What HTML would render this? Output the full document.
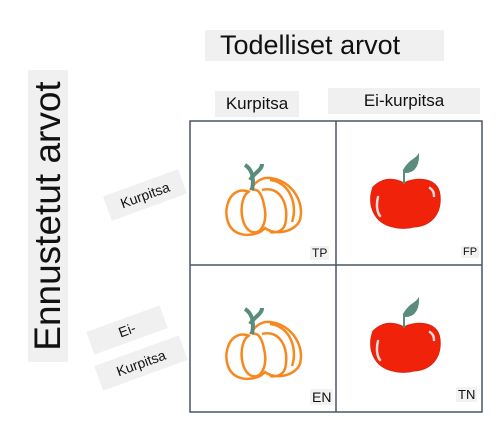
<!DOCTYPE html>
<html><head><style>
body{margin:0;width:500px;height:426px;background:#fff;overflow:hidden;position:relative;font-family:"Liberation Sans","DejaVu Sans",sans-serif;}
.b{position:absolute;background:#f0f0f0;color:#111;white-space:nowrap;}
</style></head><body>
<div class="b" style="left:205px;top:30px;width:239px;height:31px;font-size:27px;line-height:31px;padding-left:15px;box-sizing:border-box;">Todelliset arvot</div>
<div class="b" style="left:28px;top:70px;width:40px;height:292px;"></div>
<div style="position:absolute;left:48px;top:216px;transform:translate(-50%,-50%) rotate(-90deg);font-size:37px;color:#111;white-space:nowrap;">Ennustetut arvot</div>
<div class="b" style="left:215px;top:91px;width:84px;height:26px;font-size:17px;line-height:26px;text-align:center;">Kurpitsa</div>
<div class="b" style="left:328px;top:88px;width:152px;height:26px;font-size:17px;line-height:26px;text-align:center;">Ei-kurpitsa</div>
<div class="b" style="left:105px;top:182px;width:80px;height:26px;font-size:14px;line-height:26px;text-align:center;transform:rotate(-20deg);">Kurpitsa</div>
<div class="b" style="left:88px;top:318px;width:78px;height:24px;font-size:14px;line-height:24px;text-align:center;transform:rotate(-20deg);">Ei-</div>
<div class="b" style="left:96px;top:350px;width:90px;height:26px;font-size:14px;line-height:26px;text-align:center;transform:rotate(-20deg);">Kurpitsa</div>
<svg style="position:absolute;left:0;top:0" width="500" height="426">
<rect x="190" y="121" width="292" height="291" fill="none" stroke="#4a5566" stroke-width="1.5"/>
<line x1="336" y1="121" x2="336" y2="412" stroke="#4a5566" stroke-width="1.5"/>
<line x1="190" y1="265" x2="482" y2="265" stroke="#4a5566" stroke-width="1.5"/>
<g id="pk" fill="none" stroke="#f7881f" stroke-width="2.5">
<path d="M250 192 C225 182,218 225,238 233 C250 238,262 232,265 228 C275 236,295 232,300 220 C305 200,290 180,270 178 C262 177,255 182,250 190"/>
<path d="M248 192 C238 200,240 228,252 232 C262 235,268 220,264 205 C262 194,258 188,252 190"/>
<path d="M262 190 C280 185,290 205,285 225 C282 232,275 233,270 232"/>
<path d="M270 180 C290 182,298 205,292 222"/>
<path d="M252 190 C255 175,250 168,245 165 M250 180 C255 172,262 170,262 164" stroke="#5a8c7e" stroke-width="4"/>
</g>
<use href="#pk" transform="translate(0,144)"/>
<g id="ap">
<path d="M373 187 C385 175,398 180,404 183 C412 178,438 175,440 195 C442 215,430 226,414 227 C406 229,400 229,393 227 C375 224,366 205,373 187Z" fill="#f0230a" stroke="#d21" stroke-width="1"/>
<path d="M404 184 L404 170 C410 160,415 160,418 156 C418 168,412 172,405 172" fill="#5a8c7e" stroke="#5a8c7e" stroke-width="2"/>
<path d="M378 197 C376 205,377 212,380 216 M430 188 C433 190,434 193,434 196" stroke="#ddd" stroke-width="2.5" fill="none" stroke-linecap="round"/>
</g>
<use href="#ap" transform="translate(0,144)"/>
</svg>
<div class="b" style="left:310px;top:246px;font-size:12px;background:#f2f2f2;padding:0 2px;">TP</div>
<div class="b" style="left:461px;top:246px;font-size:11px;background:#f2f2f2;padding:0 2px;">FP</div>
<div class="b" style="left:310px;top:389px;font-size:14px;background:#f2f2f2;padding:0 2px;">EN</div>
<div class="b" style="left:456px;top:387px;font-size:13px;background:#f2f2f2;padding:0 2px;">TN</div>
</body></html>
